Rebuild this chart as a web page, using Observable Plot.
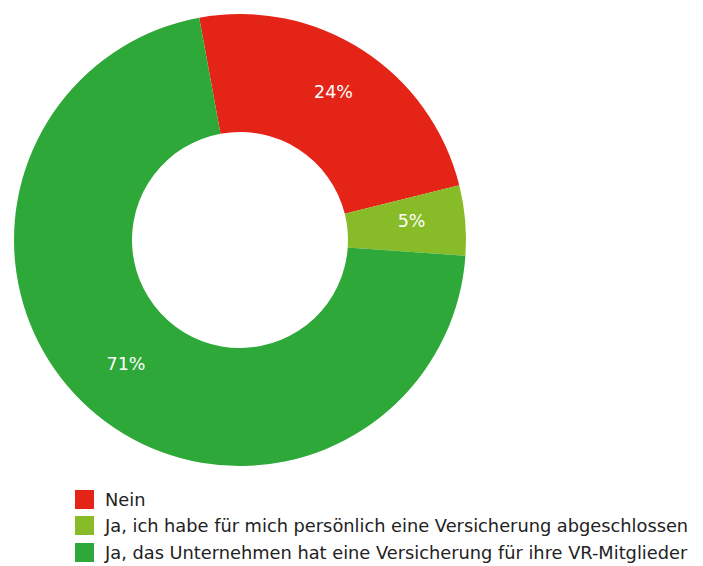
<!DOCTYPE html>
<html><head><meta charset="utf-8">
<script src="https://cdn.jsdelivr.net/npm/d3@7"></script>
<script src="https://cdn.jsdelivr.net/npm/@observablehq/plot@0.6"></script>
<style>
body{margin:0;background:#fff;font-family:"DejaVu Sans",Verdana,sans-serif;}
#legend{position:relative;margin-left:75px;margin-top:6px;}
.row{display:flex;align-items:center;height:26.5px;font-size:17.8px;color:#222;}
.sw{width:19px;height:19px;margin-right:11px;flex:none;}
</style></head>
<body>
<div id="chart"></div>
<div id="legend"></div>
<script>
const categories = ["Nein", "Ja, ich habe für mich persönlich eine Versicherung abgeschlossen", "Ja, das Unternehmen hat eine Versicherung für ihre VR-Mitglieder"];
const values = [24, 5, 71];
const colors = ["#e32416", "#88bb28", "#2ea939"];
const labels = ["24%", "5%", "71%"];

const startAngle = -10.4 * Math.PI / 180;
const innerFrac = 108 / 226;
const labelFrac = 0.76;

const arcs = d3.pie().sort(null).startAngle(startAngle).endAngle(startAngle + 2 * Math.PI)(values);
const data = arcs.map((a, i) => {
  const mid = (a.startAngle + a.endAngle) / 2;
  return {cat: categories[i], label: labels[i], start: a.startAngle, end: a.endAngle,
          lx: Math.sin(mid) * labelFrac, ly: Math.cos(mid) * labelFrac};
});

function donut(index, scales, values, dimensions, context) {
  const cx = scales.x(0), cy = scales.y(0);
  const r = Math.abs(scales.x(1) - scales.x(0));
  const arc = d3.arc().innerRadius(r * innerFrac).outerRadius(r);
  const g = d3.create("svg:g").attr("transform", `translate(${cx},${cy})`);
  g.selectAll("path").data(data).join("path")
    .attr("d", d => arc({startAngle: d.start, endAngle: d.end}))
    .attr("fill", d => scales.color(d.cat));
  return g.node();
}

const plot = Plot.plot({
  width: 703,
  height: 480,
  margin: 0,
  x: {domain: [-1, 1], range: [14, 466], axis: null},
  y: {domain: [-1, 1], range: [466, 14], axis: null},
  color: {domain: categories, range: colors},
  marks: [
    donut,
    Plot.text(data, {x: "lx", y: "ly", text: "label", fill: "white", fontSize: 17.5, fontFamily: "DejaVu Sans", dy: -4})
  ]
});
document.getElementById("chart").appendChild(plot);

const legend = d3.select("#legend");
categories.forEach((c, i) => {
  const row = legend.append("div").attr("class", "row");
  row.append("div").attr("class", "sw").style("background", colors[i]);
  row.append("span").text(c);
});
</script>
</body></html>
